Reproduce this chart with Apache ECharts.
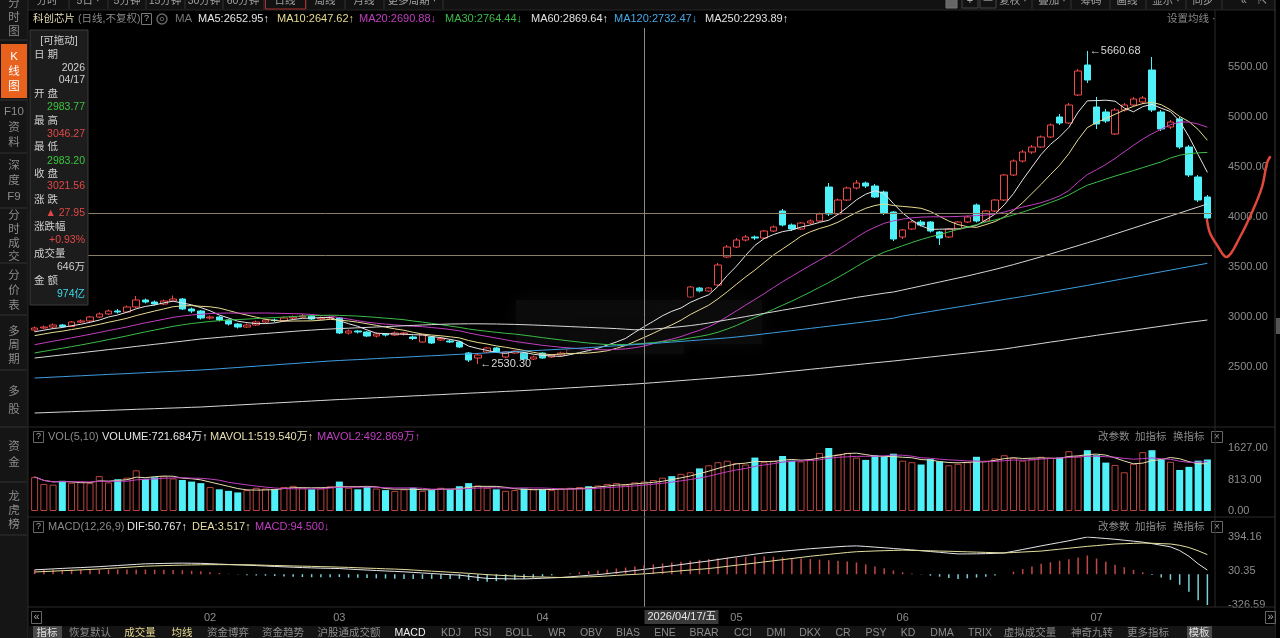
<!DOCTYPE html>
<html>
<head>
<meta charset="utf-8">
<title>科创芯片 日线</title>
<script src="https://cdn.jsdelivr.net/npm/echarts@6/dist/echarts.min.js"></script>
<style>
  html, body { margin: 0; padding: 0; background: #000; }
  #kline { width: 1280px; height: 638px; }
</style>
</head>
<body>
<div id="kline"></div>
<script>
// trading days of 2026 shown in the window
const tradeDays = {
  '01': [6, 7, 8, 9, 12, 13, 14, 15, 16, 19, 20, 21, 22, 23, 26, 27, 28, 29, 30],
  '02': [2, 3, 4, 5, 6, 9, 10, 11, 12, 13, 24, 25, 26, 27],
  '03': [2, 3, 4, 5, 6, 9, 10, 11, 12, 13, 16, 17, 18, 19, 20, 23, 24, 25, 26, 27, 30, 31],
  '04': [1, 2, 3, 7, 8, 9, 10, 13, 14, 15, 16, 17, 20, 21, 22, 23, 24, 27, 28, 29, 30],
  '05': [6, 7, 8, 11, 12, 13, 14, 15, 18, 19, 20, 21, 22, 25, 26, 27, 28, 29],
  '06': [1, 2, 3, 4, 5, 8, 9, 10, 11, 12, 15, 16, 17, 18, 22, 23, 24, 25, 26, 29, 30],
  '07': [1, 2, 3, 6, 7, 8, 9, 10, 13, 14, 15, 16, 17]
};
const dates = [];
Object.keys(tradeDays).forEach(m => tradeDays[m].forEach(d => dates.push('2026/' + m + '/' + String(d).padStart(2, '0'))));

// closes before the window (needed for the short moving averages)
const priorCloses = [2430, 2440, 2460, 2450, 2470, 2480, 2500, 2490, 2510, 2530, 2550, 2560, 2590, 2600, 2620,
  2640, 2660, 2680, 2700, 2720, 2740, 2760, 2780, 2790, 2810, 2820, 2840, 2850, 2860];

// [open, close, low, high]
const ohlc = [
  [2870, 2890, 2855, 2905], [2890, 2900, 2880, 2915], [2900, 2920, 2890, 2935], [2920, 2905, 2895, 2930],
  [2905, 2950, 2900, 2960], [2950, 2960, 2940, 2975], [2960, 3000, 2950, 3010], [3000, 3030, 2990, 3045],
  [3030, 3060, 3020, 3075], [3060, 3050, 3035, 3080], [3050, 3100, 3045, 3115], [3100, 3170, 3090, 3210],
  [3170, 3150, 3135, 3185], [3150, 3130, 3115, 3165], [3130, 3160, 3120, 3175], [3160, 3180, 3150, 3215],
  [3180, 3080, 3070, 3190], [3080, 3060, 3040, 3095], [3060, 2990, 2975, 3070],
  [2990, 3000, 2975, 3015], [3000, 2970, 2955, 3010], [2970, 2930, 2915, 2980], [2930, 2900, 2885, 2940],
  [2900, 2920, 2890, 2935], [2920, 2950, 2910, 2965], [2950, 2970, 2940, 2985], [2970, 2965, 2950, 2985],
  [2965, 2990, 2955, 3005], [2990, 3000, 2980, 3015], [3000, 3010, 2990, 3030], [3010, 2980, 2970, 3020],
  [2980, 2990, 2970, 3005], [2990, 2995, 2975, 3010],
  [2990, 2840, 2830, 3000], [2840, 2860, 2825, 2875], [2860, 2850, 2835, 2870], [2850, 2810, 2800, 2860],
  [2810, 2830, 2795, 2845], [2830, 2820, 2805, 2840], [2820, 2840, 2810, 2855], [2830, 2840, 2815, 2850],
  [2800, 2785, 2770, 2815], [2750, 2820, 2745, 2830], [2800, 2740, 2730, 2810], [2770, 2785, 2760, 2800],
  [2760, 2750, 2740, 2775], [2750, 2700, 2690, 2760], [2640, 2570, 2550, 2650], [2590, 2620, 2530.30, 2640],
  [2650, 2690, 2640, 2700], [2690, 2650, 2640, 2700], [2600, 2650, 2590, 2660], [2640, 2660, 2630, 2670],
  [2640, 2580, 2570, 2650], [2580, 2600, 2570, 2615],
  [2640, 2590, 2580, 2650], [2600, 2620, 2590, 2630], [2620, 2640, 2610, 2655], [2640, 2670, 2630, 2680],
  [2670, 2700, 2660, 2715], [2700, 2690, 2675, 2720], [2690, 2740, 2685, 2750], [2740, 2790, 2730, 2800],
  [2790, 2830, 2780, 2845], [2830, 2880, 2820, 2895], [2890, 2993.61, 2885, 3000], [2983.77, 3021.56, 2983.20, 3046.27],
  [3020, 3060, 3010, 3075], [3060, 3110, 3050, 3120], [3110, 3100, 3085, 3130], [3100, 3160, 3095, 3170],
  [3200, 3300, 3190, 3310], [3290, 3260, 3245, 3300], [3260, 3290, 3250, 3300], [3320, 3520, 3310, 3540],
  [3600, 3700, 3590, 3720],
  [3700, 3770, 3690, 3790], [3770, 3800, 3755, 3820], [3800, 3790, 3770, 3815], [3790, 3860, 3780, 3870],
  [3860, 3900, 3850, 3915], [4060, 3920, 3905, 4080], [3920, 3880, 3860, 3935], [3880, 3940, 3870, 3950],
  [3940, 3960, 3925, 3975], [3960, 4030, 3950, 4045], [4300, 4030, 4010, 4340], [4030, 4170, 4020, 4185],
  [4170, 4290, 4160, 4305], [4290, 4340, 4275, 4370], [4340, 4310, 4290, 4355], [4310, 4200, 4190, 4330],
  [4250, 4040, 4020, 4265], [4050, 3780, 3760, 4060],
  [3800, 3870, 3780, 3880], [3880, 3950, 3870, 3965], [3950, 3920, 3905, 3970], [3950, 3860, 3845, 3960],
  [3850, 3790, 3720, 3860], [3800, 3880, 3790, 3890], [3880, 3950, 3870, 3960], [3950, 4000, 3940, 4015],
  [4120, 3960, 3945, 4135], [3960, 4060, 3950, 4070], [4060, 4170, 4050, 4180], [4170, 4420, 4160, 4430],
  [4420, 4560, 4410, 4575], [4560, 4650, 4545, 4670], [4650, 4700, 4630, 4720], [4700, 4800, 4690, 4815],
  [4800, 4920, 4790, 4935], [5000, 4940, 4920, 5030], [4940, 5120, 4930, 5140], [5220, 5460, 5210, 5480],
  [5520, 5370, 5340, 5660.68],
  [5100, 4930, 4880, 5200], [5050, 4960, 4940, 5080], [4830, 5070, 4820, 5090], [5070, 5120, 5055, 5140],
  [5120, 5180, 5105, 5200], [5150, 5190, 5130, 5210], [5470, 5070, 5050, 5600], [5050, 4880, 4860, 5070],
  [4900, 4950, 4880, 4970], [4980, 4700, 4680, 5000], [4700, 4420, 4400, 4720], [4400, 4170, 4150, 4420],
  [4200, 3990, 3970, 4220]
];

// volume (万)
const volumes = [
  880, 700, 680, 780, 730, 760, 720, 900, 740, 820, 860, 1050, 830, 870, 900, 840, 800, 760, 720,
  620, 560, 520, 480, 540, 600, 580, 560, 620, 650, 600, 560, 580, 640,
  760, 600, 560, 620, 580, 540, 520, 560, 600, 520, 540, 600, 560, 640, 720, 660, 600, 560, 520, 540, 580, 560,
  560, 540, 580, 600, 620, 640, 660, 700, 720, 680, 740, 760, 800, 860, 900, 960, 1000, 1100, 1180, 1260, 1300,
  1240, 1200, 1380, 1260, 1300, 1420, 1300, 1280, 1340, 1500, 1627, 1460, 1500, 1380, 1320, 1440, 1400, 1480,
  1300, 1260, 1200, 1340, 1280, 1180, 1220, 1260, 1400, 1300, 1360, 1440, 1380, 1300, 1340, 1400, 1380, 1380, 1545, 1410, 1570,
  1440, 1250, 1190, 1000, 1220, 1520, 1570, 1330, 1270, 1060, 1140, 1300, 1330
];

// long moving averages
const ma60 = [
  2590, 2600, 2611, 2621, 2632, 2642, 2653, 2663, 2674, 2684, 2695, 2706, 2716, 2727, 2737, 2748, 2758, 2769, 2780,
  2788, 2796, 2804, 2812, 2820, 2828, 2835, 2842, 2849, 2856, 2863, 2869, 2875, 2880,
  2884, 2888, 2892, 2896, 2900, 2904, 2908, 2912, 2916, 2920, 2924, 2927, 2930, 2931, 2932, 2932, 2931, 2930, 2928, 2926, 2923, 2920,
  2916, 2912, 2908, 2904, 2900, 2896, 2892, 2888, 2884, 2878, 2872, 2875, 2880, 2887, 2895, 2904, 2914, 2926, 2940, 2956, 2972,
  2988, 3004, 3020, 3036, 3052, 3068, 3084, 3100, 3116, 3132, 3148, 3164, 3180, 3196, 3210, 3224, 3238, 3250,
  3270, 3290, 3310, 3330, 3350, 3370, 3390, 3410, 3432, 3454, 3476, 3500, 3524, 3550, 3576, 3602, 3630, 3658, 3686, 3714, 3742,
  3770, 3800, 3830, 3860, 3890, 3920, 3950, 3980, 4010, 4040, 4070, 4100, 4130
];
const ma120 = [
  2390, 2394, 2399, 2403, 2408, 2412, 2417, 2421, 2426, 2430, 2434, 2439, 2443, 2448, 2452, 2457, 2461, 2466, 2470,
  2476, 2482, 2489, 2495, 2502, 2508, 2515, 2521, 2528, 2534, 2541, 2547, 2554, 2560,
  2565, 2570, 2574, 2579, 2584, 2589, 2594, 2598, 2603, 2608, 2612, 2617, 2622, 2627, 2631, 2636, 2641, 2646, 2650, 2655, 2660, 2664,
  2668, 2673, 2678, 2683, 2688, 2694, 2700, 2706, 2712, 2718, 2724, 2730, 2736, 2742, 2749, 2756, 2763, 2770, 2777, 2784, 2791,
  2800, 2810, 2820, 2831, 2842, 2853, 2864, 2875, 2886, 2897, 2908, 2919, 2930, 2941, 2952, 2964, 2976, 2988,
  3010, 3025, 3040, 3055, 3070, 3085, 3100, 3115, 3130, 3145, 3160, 3175, 3190, 3205, 3220, 3236, 3252, 3268, 3284, 3300, 3316,
  3333, 3350, 3367, 3384, 3401, 3418, 3435, 3452, 3469, 3486, 3503, 3520, 3537
];
const ma250 = [
  2040, 2043, 2047, 2050, 2053, 2057, 2060, 2063, 2067, 2070, 2073, 2077, 2080, 2083, 2087, 2090, 2093, 2097, 2100,
  2105, 2110, 2115, 2120, 2125, 2130, 2135, 2140, 2145, 2150, 2155, 2160, 2165, 2170,
  2175, 2179, 2184, 2188, 2193, 2197, 2202, 2206, 2211, 2215, 2220, 2224, 2229, 2233, 2238, 2242, 2247, 2251, 2256, 2260, 2265, 2270,
  2275, 2281, 2286, 2292, 2297, 2303, 2308, 2314, 2319, 2325, 2330, 2336, 2343, 2350, 2357, 2364, 2371, 2378, 2385, 2392, 2400,
  2407, 2414, 2421, 2430, 2439, 2449, 2458, 2467, 2477, 2486, 2495, 2505, 2514, 2523, 2533, 2542, 2551, 2560,
  2570, 2580, 2590, 2600, 2610, 2620, 2630, 2640, 2650, 2660, 2670, 2680, 2694, 2708, 2721, 2735, 2749, 2762, 2776, 2790, 2803,
  2817, 2830, 2843, 2856, 2869, 2882, 2895, 2908, 2921, 2934, 2947, 2958, 2970
];

// MACD(12,26,9) lines
const dif = [
  46, 51, 56, 61, 66, 70, 75, 80, 86, 92, 98, 104, 110, 112, 114, 116, 117, 116, 115,
  111, 107, 103, 99, 95, 91, 87, 82, 78, 74, 70, 67, 64, 62,
  60, 54, 49, 44, 39, 34, 30, 25, 19, 13, 7, 1, -5, -10, -22, -34, -45, -47, -49, -50,
  -50, -47, -43, -39, -35, -28, -20, -12, -5, 6, 17, 28, 39, 50.767, 63, 76, 89, 102, 115, 128, 140,
  155, 170, 184, 198, 212, 225, 234, 243, 252, 261, 270, 277, 284, 291, 297, 300, 294, 287,
  280, 272, 265, 257, 249, 240, 232, 223, 215, 215, 216, 218, 221, 225, 243, 262, 281, 300, 318, 336, 354, 374, 394.16,
  386, 378, 370, 360, 350, 340, 324, 307, 290, 250, 190, 110, 44
];
const dea = [
  23, 28, 32, 37, 41, 46, 50, 55, 61, 67, 73, 79, 85, 88, 91, 94, 96, 98, 100,
  101, 101, 101, 100, 100, 98, 95, 92, 90, 87, 85, 83, 80, 78,
  75, 72, 68, 64, 61, 57, 54, 50, 44, 38, 32, 27, 21, 15, 9, 2, -5, -10, -15, -20,
  -25, -28, -30, -33, -35, -33, -30, -28, -25, -19, -13, -7, -2, 3.517, 11, 19, 27, 36, 44, 52, 60,
  71, 83, 95, 106, 118, 130, 142, 154, 166, 178, 190, 200, 210, 220, 230, 238, 242, 246,
  249, 252, 255, 253, 250, 248, 245, 243, 240, 237, 234, 231, 228, 225, 230, 235, 240, 245, 255, 265, 275, 285, 295,
  303, 312, 320, 323, 327, 330, 328, 324, 320, 306, 283, 248, 207.3
];

const priceMarks = [4040, 3620];           // drawn horizontal lines
const cursorDate = '2026/04/17';
const volTicks = ['0.00', '813.00', '1627.00'];
const macdTicks = ['-326.59', '30.35', '394.16'];
// hand drawn red stroke at the right edge (pixels)
const redStroke = [[1207, 220], [1210, 233], [1217, 245], [1227, 257], [1240, 237], [1253, 210], [1262, 187], [1267, 163], [1270, 157]];

const UP = '#f04848', DOWN = '#4ff0f8';
const FONT = '"Liberation Sans", "Noto Sans CJK SC", sans-serif';

function calcMA(n) {
  const all = priorCloses.concat(ohlc.map(d => d[1]));
  const off = priorCloses.length;
  return ohlc.map((d, i) => {
    let s = 0;
    for (let k = 0; k < n; k++) s += all[off + i - k];
    return +(s / n).toFixed(2);
  });
}
function calcAvg(arr, n) {
  return arr.map((v, i) => {
    const s = arr.slice(Math.max(0, i - n + 1), i + 1);
    return +(s.reduce((a, b) => a + b, 0) / s.length).toFixed(2);
  });
}

const volData = volumes.map((v, i) => ({
  value: v,
  itemStyle: ohlc[i][1] >= ohlc[i][0]
    ? { color: 'rgba(0,0,0,0)', borderColor: '#b8463e', borderWidth: 1 }
    : { color: DOWN }
}));
const macdData = dif.map((d, i) => {
  const v = +(2 * (d - dea[i])).toFixed(3);
  return { value: v, itemStyle: { color: v >= 0 ? '#c24848' : '#78d0da' } };
});

// ---------- chrome (toolbars, side panels, legends) ----------
const G = [];
function txt(x, y, text, fill, size, align, weight) {
  G.push({
    type: 'text', x: x, y: y, z: 20, silent: true,
    style: {
      text: text, fill: fill || '#9a9a9a',
      font: (weight || 'normal') + ' ' + (size || 11) + 'px ' + FONT,
      textAlign: align || 'left', textVerticalAlign: 'middle',
      align: align || 'left', verticalAlign: 'middle'
    }
  });
}
function box(x, y, w, h, fill, stroke, z) {
  G.push({
    type: 'rect', z: z || 15, silent: true,
    shape: { x: x, y: y, width: w, height: h },
    style: { fill: fill || 'none', stroke: stroke || null, lineWidth: 1 }
  });
}
function seg(x1, y1, x2, y2, color, z) {
  G.push({
    type: 'line', z: z || 15, silent: true,
    shape: { x1: x1, y1: y1, x2: x2, y2: y2 },
    style: { stroke: color || '#2a2a2a', lineWidth: 1 }
  });
}

// top toolbar (cut off at the top edge)
box(28, 0, 1247, 10, '#121212');
[['分时', 47], ['5日 ·', 88], ['5分钟', 127], ['15分钟', 165], ['30分钟', 204], ['60分钟', 243],
 ['日线', 285], ['周线', 325], ['月线', 364], ['更多周期 ·', 412]].forEach(b => txt(b[1], 1, b[0], '#a0a0a0', 10.5, 'center'));
[69, 108, 146, 185, 223, 264, 306, 345, 384, 443].forEach(x => seg(x, 0, x, 9, '#333'));
box(265.5, -4, 40, 13, null, '#b03030', 16);
box(946, -4, 11, 12, '#666', '#777');
box(962, -4, 16, 12, null, '#444'); txt(970, 1, '+', '#aaa', 11, 'center');
box(980, -4, 16, 12, null, '#444'); txt(988, 1, '—', '#aaa', 9, 'center');
[['复权 ·', 1013], ['叠加 ·', 1052], ['筹码', 1091], ['画线', 1127], ['显示 ·', 1166], ['同步', 1203], ['«', 1244], ['⇱', 1262]]
  .forEach(b => txt(b[1], 1, b[0], '#a0a0a0', 10.5, 'center'));
[1032, 1071, 1110, 1146, 1186, 1222].forEach(x => seg(x, 0, x, 9, '#333'));
seg(28, 10, 1275, 10, '#262626');

// main legend row
txt(33, 19, '科创芯片', '#e6dcb4', 10.5);
txt(78, 19, '(日线,不复权)', '#8a8a8a', 10.5);
box(141.5, 13.5, 10, 11, null, '#777'); txt(146.5, 19, '?', '#aaa', 9, 'center');
G.push({ type: 'circle', z: 16, silent: true, shape: { cx: 162, cy: 19, r: 5 }, style: { fill: 'none', stroke: '#666', lineWidth: 1.5 } });
G.push({ type: 'circle', z: 16, silent: true, shape: { cx: 162, cy: 19, r: 1.8 }, style: { fill: 'none', stroke: '#666', lineWidth: 1 } });
txt(175, 19, 'MA', '#777', 11.5);
[['MA5:2652.95↑', 198, '#e6e6e6'], ['MA10:2647.62↑', 277, '#e8dc90'], ['MA20:2690.88↓', 359, '#c23ec2'],
 ['MA30:2764.44↓', 445, '#3cbc48'], ['MA60:2869.64↑', 531, '#e0e0e0'], ['MA120:2732.47↓', 614, '#48a8e6'],
 ['MA250:2293.89↑', 705, '#e0e0e0']].forEach(m => txt(m[1], 19, m[0], m[2], 11));
txt(1167, 19, '设置均线 ·', '#8a8a8a', 10.5);

// volume legend row
box(33.5, 431.5, 10, 11, null, '#666'); txt(38.5, 437, '?', '#aaa', 9, 'center');
txt(48, 437, 'VOL(5,10)', '#8a8a8a', 11);
txt(102, 437, 'VOLUME:721.684万↑', '#e6e6e6', 11);
txt(210, 437, 'MAVOL1:519.540万↑', '#e6dfb0', 11);
txt(317, 437, 'MAVOL2:492.869万↑', '#c23ec2', 11);
// macd legend row
box(33.5, 521.5, 10, 11, null, '#666'); txt(38.5, 527, '?', '#aaa', 9, 'center');
txt(48, 527, 'MACD(12,26,9)', '#8a8a8a', 11);
txt(127, 527, 'DIF:50.767↑', '#e6e6e6', 11);
txt(192, 527, 'DEA:3.517↑', '#e6dfa0', 11);
txt(255, 527, 'MACD:94.500↓', '#c23ec2', 11);
[437, 527].forEach(y => {
  txt(1098, y, '改参数', '#8a8a8a', 10.5);
  txt(1135, y, '加指标', '#8a8a8a', 10.5);
  txt(1173, y, '换指标', '#8a8a8a', 10.5);
  box(1211.5, y - 5.5, 11, 11, null, '#666');
  txt(1217, y, '×', '#888', 10, 'center');
});

// pane separators
seg(28, 427, 1275, 427); seg(28, 517, 1275, 517); seg(28, 607, 1275, 607);
seg(1215, 10, 1215, 607); seg(1275, 0, 1275, 638, '#3a3a3a'); seg(28, 0, 28, 638);
box(1276, 318, 4, 16, '#555');

// left navigation column
box(0, 0, 28, 638, '#151515', null, 14);
box(1, 44, 26, 54, '#e8621e');
const navItems = [
  { t: ['分', '时', '图'], y: [4, 18, 32] },
  { t: ['K', '线', '图'], y: [57, 72, 87], on: true },
  { t: ['F10', '资', '料'], y: [112, 128, 143] },
  { t: ['深', '度', 'F9'], y: [166, 181, 197] },
  { t: ['分', '时', '成', '交'], y: [216, 230, 244, 257] },
  { t: ['分', '价', '表'], y: [276, 291, 306] },
  { t: ['多', '周', '期'], y: [332, 346, 360] },
  { t: ['多', '股'], y: [392, 410] },
  { t: ['资', '金'], y: [447, 463] },
  { t: ['龙', '虎', '榜'], y: [497, 511, 525] }
];
navItems.forEach(it => it.t.forEach((c, k) => txt(14, it.y[k], c, it.on ? '#ffffff' : '#8c8c8c', 11.5, 'center')));
[40, 100, 153, 208, 263, 315, 370, 427, 482, 535].forEach(y => seg(0, y, 27, y, '#333'));

// info popup
box(30, 30, 58, 275, '#1c1c1c', '#3c3c3c', 16);
const infoRows = [
  ['[可拖动]', 41, '#cfcfcf', 'c'], ['日 期', 55], ['2026', 68, '#cfcfcf', 'r'], ['04/17', 80, '#cfcfcf', 'r'],
  ['开 盘', 94], ['2983.77', 107, '#3cc43c', 'r'], ['最 高', 121], ['3046.27', 134, '#e04848', 'r'],
  ['最 低', 147], ['2983.20', 161, '#3cc43c', 'r'], ['收 盘', 174], ['3021.56', 186, '#e04848', 'r'],
  ['涨 跌', 200], ['▲ 27.95', 213, '#e04848', 'r'], ['涨跌幅', 227], ['+0.93%', 240, '#e04848', 'r'],
  ['成交量', 254], ['646万', 267, '#cfcfcf', 'r'], ['金 额', 281], ['974亿', 294, '#40d8e8', 'r']
];
infoRows.forEach(r => {
  if (r[3] === 'r') txt(85, r[1], r[0], r[2], 10.5, 'right');
  else if (r[3] === 'c') txt(59, r[1], r[0], r[2], 10.5, 'center');
  else txt(34, r[1], r[0], '#cfcfcf', 10.5, 'left');
});

// x axis row buttons
box(31.5, 611.5, 10, 12, null, '#666'); txt(36.5, 617, '«', '#aaa', 11, 'center');
box(1265.5, 611.5, 10, 12, null, '#666'); txt(1270.5, 617, '»', '#aaa', 11, 'center');

// bottom indicator bar
box(28, 626, 1247, 12, '#141414');
box(33, 626, 29, 12, '#4a4a4a'); box(1187, 626, 25, 12, '#4a4a4a');
[['指标', 47, '#e0e0e0'], ['恢复默认', 90], ['成交量', 140, '#e8d890'], ['均线', 182, '#e8d890'], ['资金博弈', 228],
 ['资金趋势', 283], ['沪股通成交额', 349], ['MACD', 410, '#f0f0f0'], ['KDJ', 451], ['RSI', 483], ['BOLL', 519],
 ['WR', 557], ['OBV', 591], ['BIAS', 628], ['ENE', 665], ['BRAR', 704], ['CCI', 743], ['DMI', 776], ['DKX', 810],
 ['CR', 843], ['PSY', 876], ['KD', 908], ['DMA', 942], ['TRIX', 980], ['虚拟成交量', 1030], ['神奇九转', 1092],
 ['更多指标', 1148], ['模板', 1199, '#e0e0e0']].forEach(b => txt(b[1], 633, b[0], b[2] || '#8c8c8c', 10.5, 'center'));

// smudged area in the middle of the price pane
G.push({ type: 'rect', z: 3, silent: true, shape: { x: 516, y: 300, width: 246, height: 44 },
  style: { fill: 'rgba(12,12,12,0.95)', shadowBlur: 18, shadowColor: 'rgba(12,12,12,1)' } });
G.push({ type: 'rect', z: 3, silent: true, shape: { x: 568, y: 332, width: 116, height: 22 },
  style: { fill: 'rgba(12,12,12,0.95)', shadowBlur: 12, shadowColor: 'rgba(12,12,12,1)' } });

// hand drawn stroke
G.push({ type: 'polyline', z: 18, silent: true, shape: { points: redStroke, smooth: 0.35 },
  style: { fill: 'none', stroke: '#e0483c', lineWidth: 2.5, lineCap: 'round' } });

// ---------- chart ----------
const chart = echarts.init(document.getElementById('kline'));
const axisFont = { color: '#8c8c8c', fontSize: 11, fontFamily: FONT };
const hiddenX = (gi) => ({
  type: 'category', gridIndex: gi, data: dates, boundaryGap: true,
  axisLine: { show: false }, axisTick: { show: false }, axisLabel: { show: false }, splitLine: { show: false }
});
const maLine = (name, data, color) => ({
  name: name, type: 'line', data: data, xAxisIndex: 0, yAxisIndex: 0, z: 4,
  showSymbol: false, symbol: 'none', silent: true,
  lineStyle: { color: color, width: 1 }
});

const option = {
  backgroundColor: '#000',
  animation: false,
  grid: [
    { left: 30, right: 68, top: 28, height: 397 },
    { left: 30, right: 68, top: 448, height: 63 },
    { left: 30, right: 68, top: 537, height: 68 }
  ],
  xAxis: [
    hiddenX(0), hiddenX(1),
    Object.assign(hiddenX(2), {
      axisLabel: Object.assign({
        show: true, margin: 7,
        interval: (i, v) => i > 0 && v.slice(5, 7) !== dates[i - 1].slice(5, 7),
        formatter: v => v.slice(5, 7)
      }, axisFont)
    })
  ],
  yAxis: [
    {
      type: 'value', gridIndex: 0, position: 'right', min: 1920, max: 5890,
      splitNumber: 8, minInterval: 500, maxInterval: 500,
      axisLine: { show: false }, axisTick: { show: false }, splitLine: { show: false },
      axisLabel: Object.assign({
        margin: 16, align: 'left', showMinLabel: false, showMaxLabel: false,
        formatter: v => (v >= 2500 && v <= 5500) ? v.toFixed(2) : ''
      }, axisFont)
    },
    {
      type: 'value', gridIndex: 1, position: 'right', min: 0, max: 1627, interval: 813.5,
      axisLine: { show: false }, axisTick: { show: false }, splitLine: { show: false },
      axisLabel: Object.assign({ margin: 16, align: 'left', formatter: v => volTicks[Math.round(v / 813.5)] }, axisFont)
    },
    {
      type: 'value', gridIndex: 2, position: 'right', min: -326.59, max: 394.16, interval: 360.375,
      axisLine: { show: false }, axisTick: { show: false }, splitLine: { show: false },
      axisLabel: Object.assign({ margin: 16, align: 'left', formatter: v => macdTicks[Math.round((v + 326.59) / 360.375)] }, axisFont)
    }
  ],
  series: [
    {
      name: 'K', type: 'candlestick', data: ohlc, xAxisIndex: 0, yAxisIndex: 0, z: 2,
      barWidth: 7, silent: true,
      itemStyle: { color: 'rgba(0,0,0,0)', color0: DOWN, borderColor: UP, borderColor0: DOWN, borderWidth: 1 },
      markPoint: {
        symbol: 'circle', symbolSize: 1, silent: true,
        itemStyle: { color: 'rgba(0,0,0,0)' },
        label: {
          show: true, position: 'right', distance: 2, color: '#d8d8d8', fontSize: 11, fontFamily: FONT,
          formatter: p => '←' + Number(p.value).toFixed(2)
        },
        data: [{ type: 'max', valueDim: 'highest' }, { type: 'min', valueDim: 'lowest' }]
      }
    },
    maLine('MA5', calcMA(5), '#e6e6e6'),
    maLine('MA10', calcMA(10), '#e8dc90'),
    maLine('MA20', calcMA(20), '#c23ec2'),
    maLine('MA30', calcMA(30), '#3cbc48'),
    maLine('MA60', ma60, '#d8d8d8'),
    maLine('MA120', ma120, '#3e9ee0'),
    Object.assign(maLine('MA250', ma250, '#d8d8d8'), {
      markLine: {
        symbol: 'none', silent: true, label: { show: false },
        lineStyle: { color: '#8a7e66', width: 1, type: 'solid' },
        data: priceMarks.map(v => ({ yAxis: v }))
      }
    }),
    {
      name: 'VOL', type: 'bar', data: volData, xAxisIndex: 1, yAxisIndex: 1, barWidth: 7, silent: true
    },
    {
      name: 'MAVOL1', type: 'line', data: calcAvg(volumes, 5), xAxisIndex: 1, yAxisIndex: 1, z: 4,
      showSymbol: false, silent: true, lineStyle: { color: '#e6dfb0', width: 1 }
    },
    {
      name: 'MAVOL2', type: 'line', data: calcAvg(volumes, 10), xAxisIndex: 1, yAxisIndex: 1, z: 4,
      showSymbol: false, silent: true, lineStyle: { color: '#c23ec2', width: 1 }
    },
    {
      name: 'MACD', type: 'bar', data: macdData, xAxisIndex: 2, yAxisIndex: 2, barWidth: 1.5, silent: true
    },
    {
      name: 'DIF', type: 'line', data: dif, xAxisIndex: 2, yAxisIndex: 2, z: 4,
      showSymbol: false, silent: true, lineStyle: { color: '#e6e6e6', width: 1 }
    },
    {
      name: 'DEA', type: 'line', data: dea, xAxisIndex: 2, yAxisIndex: 2, z: 4,
      showSymbol: false, silent: true, lineStyle: { color: '#e6dfa0', width: 1 }
    }
  ],
  graphic: { elements: G }
};
chart.setOption(option);

// crosshair and date tag at the selected day
const px = Math.round(chart.convertToPixel({ xAxisIndex: 0 }, cursorDate)) + 0.5;
seg(px, 28, px, 607, '#8a8a8a', 12);
box(px, 610, 74, 14, '#3a3a3a', null, 17);
txt(px + 3, 617, cursorDate + '/五', '#e6e6e6', 11);
chart.setOption({ graphic: { elements: G } });
</script>
</body>
</html>
